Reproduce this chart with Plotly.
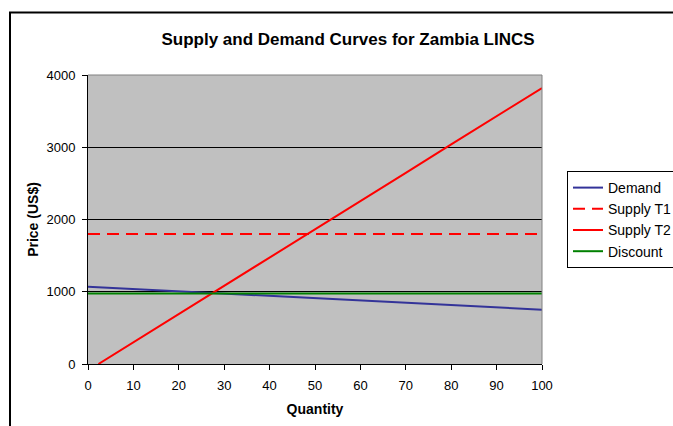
import plotly.graph_objects as go

# Quantity points and the price read for each curve
quantity = [0, 10, 20, 30, 40, 50, 60, 70, 80, 90, 100]
demand = [1070, 1038, 1006, 975, 943, 911, 879, 847, 816, 784, 752]
supply_t1 = [1800, 1800, 1800, 1800, 1800, 1800, 1800, 1800, 1800, 1800, 1800]
supply_t2_qty = [2.3, 10, 20, 30, 40, 50, 60, 70, 80, 90, 100]
supply_t2 = [0, 300, 690, 1085, 1475, 1865, 2255, 2645, 3040, 3430, 3820]
discount = [975, 975, 975, 975, 975, 975, 975, 975, 975, 975, 975]

x_ticks = [0, 10, 20, 30, 40, 50, 60, 70, 80, 90, 100]
y_ticks = [0, 1000, 2000, 3000, 4000]

FONT = "Liberation Sans, Arial, sans-serif"

fig = go.Figure()
fig.add_trace(go.Scatter(x=quantity, y=demand, name="Demand", mode="lines",
                         line=dict(color="#333399", width=2)))
fig.add_trace(go.Scatter(x=quantity, y=supply_t1, name="Supply T1", mode="lines",
                         line=dict(color="#FF0000", width=2, dash="12px,7px")))
fig.add_trace(go.Scatter(x=supply_t2_qty, y=supply_t2, name="Supply T2", mode="lines",
                         line=dict(color="#FF0000", width=2)))
fig.add_trace(go.Scatter(x=quantity, y=discount, name="Discount", mode="lines",
                         line=dict(color="#008000", width=2)))

L, R, T, B = 88, 131, 75, 62
W, H = 673, 426
pw, ph = W - L - R, H - T - B


def px_x(p):
    return (p - L) / pw


def px_y(p):
    return (H - B - p) / ph


fig.update_layout(
    width=W, height=H,
    margin=dict(l=L, r=R, t=T, b=B, pad=0, autoexpand=False),
    paper_bgcolor="white",
    plot_bgcolor="#C0C0C0",
    font=dict(family=FONT, size=13, color="black"),
    title=dict(text="<b>Supply and Demand Curves for Zambia LINCS</b>",
               x=px_x(348), xref="paper", xanchor="center",
               y=1 - 39 / H, yanchor="middle",
               font=dict(family=FONT, size=17, color="black")),
    xaxis=dict(range=[0, 100], tickvals=x_ticks, ticks="outside", ticklen=5,
               tickcolor="black", showline=True, linecolor="black", linewidth=1,
               showgrid=False, zeroline=False, ticklabelstandoff=4,
               title=dict(text="<b>Quantity</b>", font=dict(size=14), standoff=12),
               tickfont=dict(size=13)),
    yaxis=dict(range=[0, 4000], tickvals=y_ticks, ticks="outside", ticklen=5,
               tickcolor="black", showline=True, linecolor="black", linewidth=1,
               showgrid=True, gridcolor="black", gridwidth=1, zeroline=False,
               ticklabelstandoff=4,
               title=dict(text="<b>Price (US$)</b>", font=dict(size=14), standoff=4),
               tickfont=dict(size=13)),
    legend=dict(x=px_x(567), y=px_y(171), xanchor="left", yanchor="top",
                bgcolor="white", bordercolor="black", borderwidth=1,
                font=dict(family=FONT, size=14, color="black"),
                tracegroupgap=0),
    showlegend=True,
    shapes=[
        # gray top and right edges of the plotting area
        dict(type="line", xref="paper", yref="paper", x0=0, x1=1, y0=1, y1=1,
             line=dict(color="#808080", width=1), layer="above"),
        dict(type="line", xref="paper", yref="paper", x0=1, x1=1, y0=0, y1=1,
             line=dict(color="#808080", width=1), layer="above"),
        # outer chart frame
        dict(type="rect", xref="paper", yref="paper",
             x0=px_x(10), x1=px_x(700), y0=px_y(440), y1=px_y(12.5),
             line=dict(color="black", width=2), layer="above"),
    ],
)

fig.write_html("out.html")
